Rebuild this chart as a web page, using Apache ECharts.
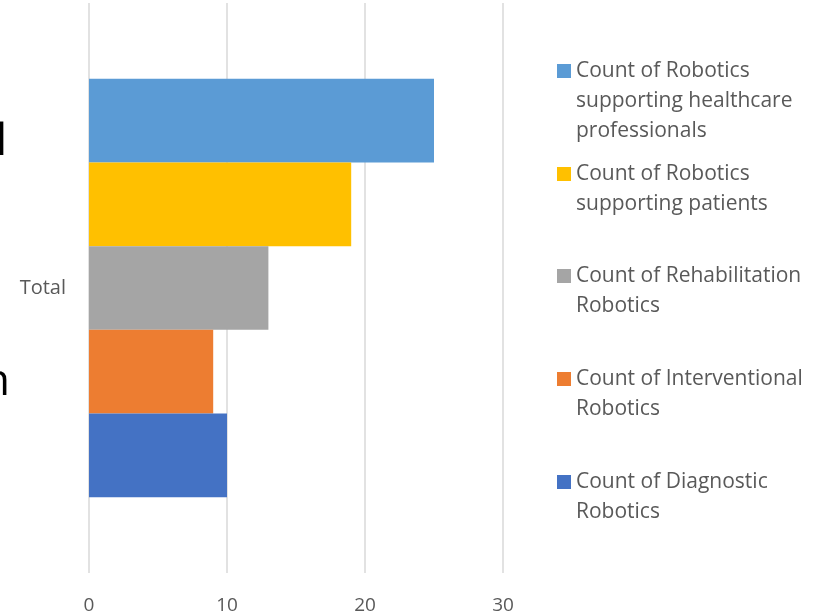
<!DOCTYPE html>
<html>
<head>
<meta charset="utf-8">
<script src="https://cdn.jsdelivr.net/npm/echarts@6/dist/echarts.min.js"></script>
<style>html,body{margin:0;padding:0;background:#fff;}#c{width:813px;height:615px;}</style>
</head>
<body>
<div id="c"></div>
<script>
// Data (listed top to bottom as drawn)
var categories = ['Total'];
var seriesNames = [
  'Count of Robotics supporting healthcare professionals',
  'Count of Robotics supporting patients',
  'Count of Rehabilitation Robotics',
  'Count of Interventional Robotics',
  'Count of Diagnostic Robotics'
];
var seriesValues = [[25], [19], [13], [9], [10]];
var xTicks = [0, 10, 20, 30];
var legendLines = {
  'Count of Robotics supporting healthcare professionals': ['Count of Robotics', 'supporting healthcare', 'professionals'],
  'Count of Robotics supporting patients': ['Count of Robotics', 'supporting patients'],
  'Count of Rehabilitation Robotics': ['Count of Rehabilitation', 'Robotics'],
  'Count of Interventional Robotics': ['Count of Interventional', 'Robotics'],
  'Count of Diagnostic Robotics': ['Count of Diagnostic', 'Robotics']
};

var colors = ['#5B9BD5', '#FFC000', '#A5A5A5', '#ED7D31', '#4472C4'];
var FONT = 'Open Sans';
var LH = 30;
var firstLineCenters = [71, 174, 276, 379, 482];

var legends = seriesNames.map(function (name, i) {
  var lines = legendLines[name];
  var blanks = lines.length - 1;
  var total = lines.length + blanks;
  return {
    data: [name],
    orient: 'vertical',
    left: 557,
    top: firstLineCenters[i] - total * LH / 2,
    padding: 0,
    itemWidth: 14,
    itemHeight: 14,
    itemGap: 6,
    icon: 'rect',
    selectedMode: false,
    formatter: function (n) {
      var l = legendLines[n];
      var pre = [];
      for (var k = 0; k < l.length - 1; k++) pre.push(' ');
      return pre.concat(l).join('\n');
    },
    textStyle: { fontFamily: FONT, fontSize: 21, color: '#595959', lineHeight: LH, padding: [0, 0, 0, 0] }
  };
});

var chart = echarts.init(document.getElementById('c'));
chart.setOption({
  animation: false,
  color: colors,
  textStyle: { fontFamily: FONT },
  grid: { left: 89, right: 310, top: 3, bottom: 41, containLabel: false },
  xAxis: {
    type: 'value',
    min: xTicks[0],
    max: xTicks[xTicks.length - 1],
    interval: 10,
    axisLine: { show: false },
    axisTick: { show: false },
    splitLine: { lineStyle: { color: '#d9d9d9', width: 1.5 } },
    axisLabel: { fontFamily: FONT, fontSize: 19, color: '#595959', margin: 23 }
  },
  yAxis: {
    type: 'category',
    inverse: true,
    data: categories,
    axisLine: { show: false },
    axisTick: { show: false },
    axisLabel: { fontFamily: FONT, fontSize: 20, color: '#595959', margin: 23, padding: [4, 0, 0, 0] }
  },
  legend: legends,
  graphic: [
    { type: 'text', x: 7, y: 120, style: { text: 'l', font: '44px "Open Sans"', fill: '#000', align: 'right' } },
    { type: 'text', x: 10, y: 360, style: { text: 'n', font: '44px "Open Sans"', fill: '#000', align: 'right' } }
  ],
  series: seriesNames.map(function (n, i) {
    return {
      name: n,
      type: 'bar',
      data: seriesValues[i],
      barGap: '0%',
      barCategoryGap: '26.6%'
    };
  })
});
</script>
</body>
</html>
